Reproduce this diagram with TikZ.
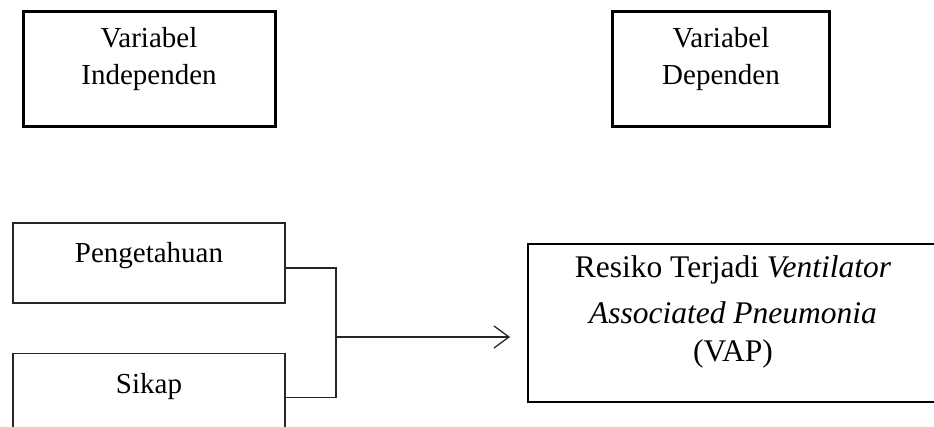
\documentclass[tikz,border=0pt]{standalone}
\usepackage{fontspec}
\setmainfont{Liberation Serif}
\usetikzlibrary{positioning}
\usetikzlibrary{arrows.meta}

\begin{document}
\begin{tikzpicture}[
x=1pt, y=-1pt,
varbox/.style={rectangle, draw=black, line width=3pt, minimum height=115pt, text height=73.5pt, text depth=41.5pt, inner ysep=0pt, align=center, font=\fontsize{29}{37}\selectfont},
factorbox/.style={rectangle, draw=black!85, line width=1.3pt, minimum width=272pt, text height=40pt, text depth=40pt, inner ysep=0pt, align=center, font=\fontsize{29}{37}\selectfont},
outcomebox/.style={rectangle, draw=black, line width=1.8pt, minimum width=410pt, text height=118pt, text depth=40pt, inner ysep=0pt, align=center, font=\fontsize{31.5}{38}\selectfont},
wire/.style={draw=black!85, line width=1.3pt},
]
\useasboundingbox (0,0) rectangle (934,427);
\clip (0,0) rectangle (934,427);

%Nodes
\node[varbox, minimum width=252pt]   (indep)   at (149,69)             {Variabel\\Independen};
\node[varbox, minimum width=217pt]   (dep)     at (721,69)             {Variabel\\Dependen};
\node[factorbox]                     (peng)    at (149,263)            {Pengetahuan};
\node[factorbox]                     (sikap)   [below=49pt of peng]    {Sikap};
\node[outcomebox]                    (vap)     at (733,323)            {Resiko Terjadi \textit{Ventilator}\\[9pt]\textit{Associated Pneumonia}\\(VAP)};

%Lines
\coordinate (join) at (336,337);
\draw[wire] ([yshift=-5pt]peng.east) -| (join) |- ([yshift=-4pt]sikap.east);
\draw[wire, -{Straight Barb[length=15pt, width=22pt]}, shorten >=17pt] (join) -- (join -| vap.west);
\end{tikzpicture}
\end{document}
